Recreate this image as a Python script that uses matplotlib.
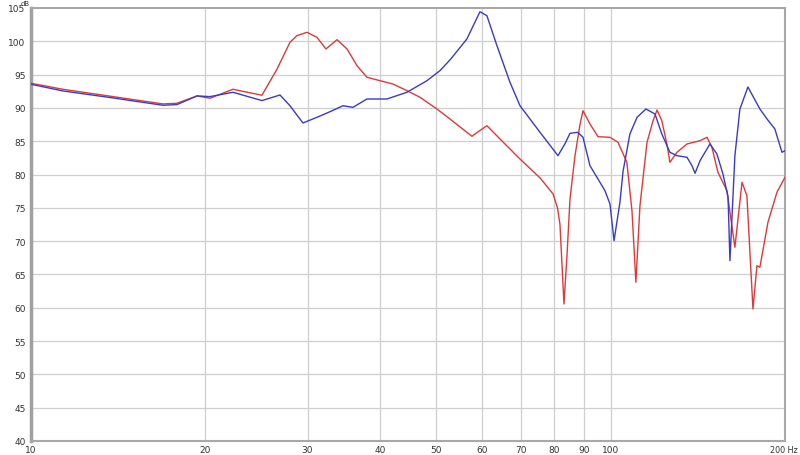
import matplotlib
matplotlib.use("Agg")
import matplotlib.pyplot as plt
from matplotlib.ticker import FixedLocator, NullLocator, NullFormatter

# ---- data ----
red_freq = [10, 11.35, 13.85, 15.42, 16.9, 17.86, 19.34, 20.36, 22.31, 25.03,
            26.58, 27.98, 28.76, 29.94, 31.14, 32.28, 33.73, 35.10, 36.52, 37.99,
            40.0, 42.12, 44.54, 46.90, 50.17, 52.82, 57.66, 58.81, 61.19, 64.45,
            69.78, 75.56, 79.56, 81.0, 81.80, 83.11, 84.11, 85.12, 86.83, 88.57,
            89.63, 92.15, 95.13, 99.77, 103.0, 106.7, 108.9, 110.6, 112.4, 115.6,
            118.4, 120.3, 122.6, 125.1, 126.6, 130.2, 135.5, 142.7, 146.7, 149.6,
            153.2, 158.8, 163.9, 168.6, 171.9, 176.1, 178.9, 181.0, 186.9, 193.7,
            200.0]
red_db = [93.7, 92.8, 91.7, 91.1, 90.6, 90.7, 91.8, 91.45, 92.8, 91.9,
          95.84, 99.85, 100.85, 101.35, 100.6, 98.85, 100.24, 98.85, 96.34, 94.6,
          94.09, 93.59, 92.59, 91.6, 89.84, 88.34, 85.74, 86.3, 87.33, 85.34,
          82.33, 79.5, 77.1, 75.0, 72.5, 60.57, 67.82, 76.33, 82.83, 87.5,
          89.58, 87.59, 85.68, 85.59, 84.84, 81.84, 74.5, 63.83, 75.33, 84.84,
          88.08, 89.69, 88.08, 84.59, 81.84, 83.34, 84.59, 85.08, 85.59, 84.09,
          80.34, 77.58, 69.08, 78.84, 76.83, 59.82, 66.32, 66.08, 72.83, 77.34,
          79.59]

blue_freq = [10, 11.35, 13.85, 15.42, 16.9, 17.86, 19.34, 20.36, 22.31, 25.03,
             26.89, 27.98, 29.46, 31.14, 32.80, 34.54, 35.94, 37.99, 41.13, 44.54,
             48.22, 50.77, 53.0, 56.51, 59.52, 61.19, 63.68, 67.06, 69.78, 75.56,
             81.15, 83.4, 85.12, 87.8, 89.63, 92.15, 95.13, 97.8, 99.77, 101.4,
             103.8, 105.1, 108.0, 111.1, 115.1, 119.3, 122.6, 126.6, 130.2, 135.5,
             138.2, 139.9, 142.7, 148.4, 152.6, 156.3, 159.5, 160.7, 163.9, 167.2,
             172.6, 181.0, 186.2, 192.1, 197.6, 200.0]
blue_db = [93.55, 92.55, 91.5, 90.9, 90.4, 90.5, 91.8, 91.7, 92.35, 91.1,
           91.94, 90.33, 87.74, 88.59, 89.43, 90.33, 90.09, 91.34, 91.34, 92.35,
           94.09, 95.59, 97.34, 100.35, 104.44, 103.84, 99.34, 93.85, 90.33, 86.34,
           82.83, 84.59, 86.19, 86.34, 85.59, 81.33, 79.33, 77.58, 75.58, 70.07,
           75.83, 80.5, 86.09, 88.59, 89.84, 89.09, 86.09, 83.34, 82.83, 82.59,
           81.33, 80.19, 82.08, 84.59, 83.09, 80.08, 76.63, 67.07, 82.83, 89.84,
           93.14, 89.84, 88.34, 86.84, 83.34, 83.58]

x_ticks = [10, 20, 30, 40, 50, 60, 70, 80, 90, 100]
x_tick_labels = ["10", "20", "30", "40", "50", "60", "70", "80", "90", "100"]
y_ticks = [40, 45, 50, 55, 60, 65, 70, 75, 80, 85, 90, 95, 100, 105]

# ---- figure ----
fig = plt.figure(figsize=(8, 4.56), dpi=100)
ax = fig.add_axes([31 / 800, 1 - 442 / 456, (785 - 31) / 800, (442 - 9) / 456])
ax.set_xscale("log")
ax.set_xlim(10, 200)
ax.set_ylim(40, 105)

grid_c = "#cfcfcf"
for v in y_ticks[1:-1]:
    ax.axhline(v, color=grid_c, lw=0.9, zorder=1)
for v in x_ticks[1:]:
    ax.axvline(v, color=grid_c, lw=0.9, zorder=1)

ax.plot(red_freq, red_db, color="#dd3a3a", lw=1.0, zorder=3)
ax.plot(blue_freq, blue_db, color="#3a3ac8", lw=1.0, zorder=4)

ax.xaxis.set_major_locator(FixedLocator(x_ticks))
ax.xaxis.set_minor_locator(NullLocator())
ax.xaxis.set_minor_formatter(NullFormatter())
ax.set_xticklabels(x_tick_labels)
ax.set_yticks(y_ticks)
ax.set_yticklabels([str(v) for v in y_ticks])
ax.tick_params(axis="both", length=0, labelsize=6.5, colors="#333333")
ax.tick_params(axis="x", pad=3)
ax.tick_params(axis="y", pad=4)

fig.text(798 / 800, 1 - 446 / 456, "200 Hz", ha="right", va="top",
         fontsize=5.8, color="#333333")
fig.text(25 / 800, 1 - 0.5 / 456, "dB", ha="center", va="top",
         fontsize=5.0, color="#333333")

for side in ["top", "right", "bottom"]:
    ax.spines[side].set_color("#a8a8a8")
    ax.spines[side].set_linewidth(1.5)
ax.spines["left"].set_color("#a0a0a0")
ax.spines["left"].set_linewidth(2.5)

fig.savefig("out.png", dpi=100)
